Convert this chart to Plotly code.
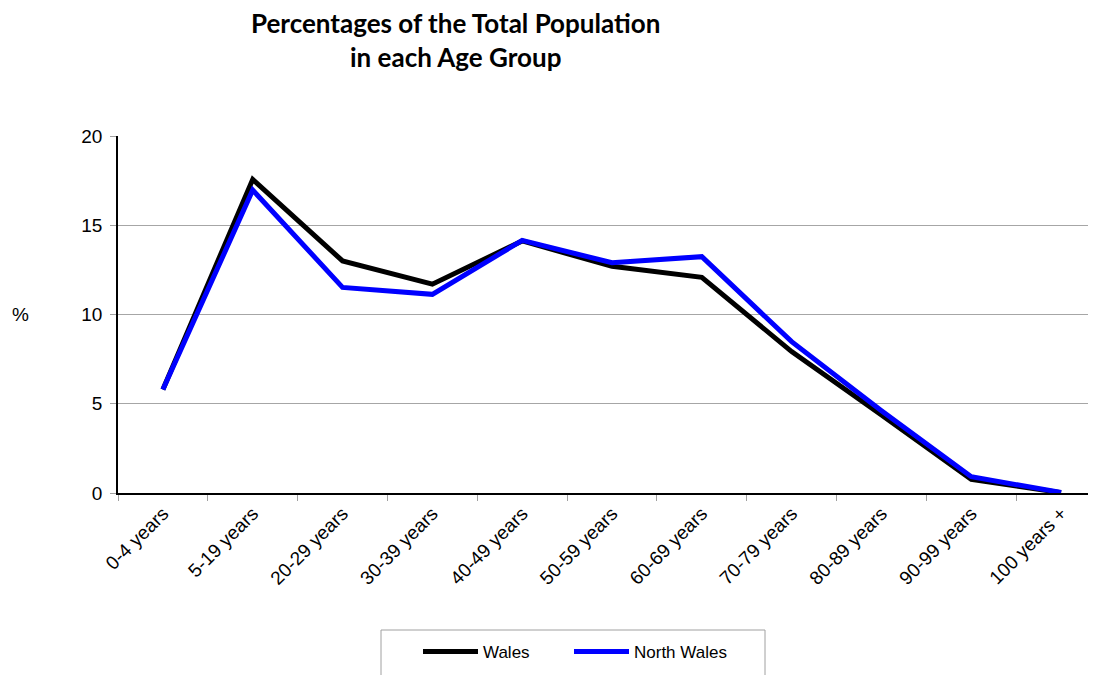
import plotly.graph_objects as go

categories = ["0-4 years", "5-19 years", "20-29 years", "30-39 years", "40-49 years",
              "50-59 years", "60-69 years", "70-79 years", "80-89 years", "90-99 years",
              "100 years +"]
wales = [5.8, 17.57, 13.0, 11.7, 14.12, 12.7, 12.08, 7.92, 4.37, 0.77, 0.02]
north_wales = [5.8, 16.97, 11.52, 11.13, 14.15, 12.9, 13.24, 8.48, 4.61, 0.91, 0.03]
y_ticks = [0, 5, 10, 15, 20]
title_lines = ["Percentages of the Total Population", "in each Age Group"]

# page body has an 8px margin; plot area on screen: left 118, top 136, 988 x 357
PL, PT, PW, PH = 118, 136, 988, 357
OFF = 8
FW, FH = 1098, 675


def px(x):
    return (x - PL) / PW


def py(y):
    return (PT + PH - y) / PH


def legend_at(screen_x):
    return dict(orientation="h", xref="container", yref="container",
                x=(screen_x - OFF) / FW, xanchor="left", y=1 - (652 - OFF) / FH,
                yanchor="middle", borderwidth=0, bgcolor="rgba(0,0,0,0)",
                font=dict(size=17), itemwidth=55)


fig = go.Figure()
fig.add_trace(go.Scatter(x=categories, y=wales, mode="lines", name="Wales",
                         line=dict(color="#000000", width=5), legend="legend"))
fig.add_trace(go.Scatter(x=categories, y=north_wales, mode="lines", name="North Wales",
                         line=dict(color="#0000ff", width=5), legend="legend2"))

fig.update_layout(
    width=FW, height=FH,
    margin=dict(l=PL - OFF, r=0, t=PT - OFF, b=FH - (PT - OFF) - PH),
    paper_bgcolor="white", plot_bgcolor="white",
    font=dict(family="Liberation Sans, Arial", size=19, color="#000000"),
    showlegend=True,
    legend=legend_at(418),
    legend2=legend_at(569),
    xaxis=dict(range=[-0.5, 10.5], automargin=False, showgrid=False, showline=True,
               linecolor="#000000", linewidth=2, ticks="outside",
               tickson="boundaries", ticklen=6, tickcolor="#a0a0a0", tickangle=-45,
               tickfont=dict(size=19)),
    yaxis=dict(range=[0, 20], automargin=False, tickvals=y_ticks, showgrid=True,
               gridcolor="#a6a6a6", gridwidth=1, showline=True, linecolor="#000000",
               linewidth=1.5, ticks="outside", ticklen=6, tickcolor="#a0a0a0",
               zeroline=False, ticklabelstandoff=4, tickfont=dict(size=19)),
    shapes=[dict(type="rect", xref="paper", yref="paper",
                 x0=px(381), x1=px(765), y0=py(630), y1=py(700),
                 line=dict(color="#a0a0a0", width=1), fillcolor="rgba(0,0,0,0)",
                 layer="below")],
    annotations=[
        dict(text="<b>" + title_lines[0] + "</b>", xref="paper", yref="paper",
             x=px(455.5), y=py(23), xanchor="center", yanchor="middle",
             showarrow=False, font=dict(family="Lato", size=26, color="#000000")),
        dict(text="<b>" + title_lines[1] + "</b>", xref="paper", yref="paper",
             x=px(455.5), y=py(57), xanchor="center", yanchor="middle",
             showarrow=False, font=dict(family="Lato", size=26, color="#000000")),
        dict(text="%", xref="paper", yref="paper", x=px(20), y=0.5,
             xanchor="center", yanchor="middle", showarrow=False,
             font=dict(size=19)),
    ],
)

fig.write_html("out.html")
